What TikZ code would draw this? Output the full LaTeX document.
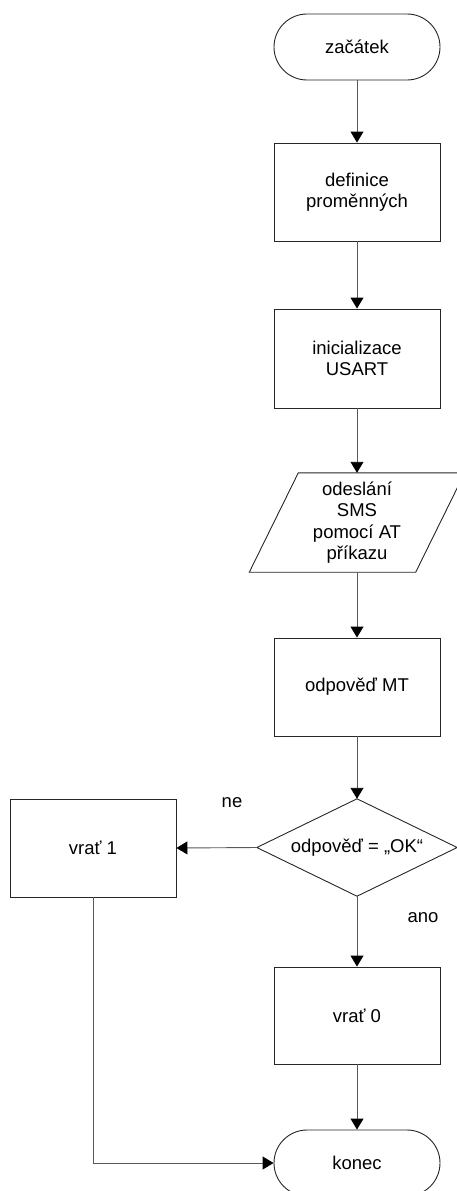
\documentclass[tikz,border=0pt]{standalone}
\usepackage{fontspec}
\setmainfont{Liberation Sans}
\usetikzlibrary{shapes.misc,arrows.meta,calc}
\begin{document}
\begin{tikzpicture}[x=1pt,y=-1pt,
  every node/.style={font=\fontsize{18.5}{21.5}\selectfont, align=center, inner sep=0pt},
  proc/.style={draw=black!85, line width=0.9pt, rectangle, minimum width=166pt, minimum height=98pt},
  term/.style={draw=black!85, line width=0.9pt, rounded rectangle, minimum width=166pt, minimum height=66pt},
  ghost/.style={rectangle, minimum width=#1},
  conn/.style={draw=black!65, line width=0.9pt, -{Triangle[length=11pt,width=13pt,color=black]}},
  shapeline/.style={draw=black!85, line width=0.9pt},
  lbl/.style={}
]
\useasboundingbox (0,0) rectangle (457,1191);
\clip (0,0) rectangle (457,1191);

\node[term] (start) at (357,47) {začátek};
\node[proc] (def) at (357,192) {definice\\proměnných};
\node[proc, minimum height=99pt] (init) at (357,358.5) {inicializace\\USART};
\node[ghost=166pt, minimum height=99pt] (para) at (357,522.5) {odeslání\\SMS\\pomocí AT\\příkazu};
\draw[shapeline] ($(para.north west)+(24.5,0)$) -- ($(para.north east)+(24.5,0)$)
  -- ($(para.south east)+(-24.5,0)$) -- ($(para.south west)+(-24.5,0)$) -- cycle;
\node[proc] (mt) at (357,687) {odpověď MT};
\node[ghost=200pt, minimum height=97pt] (dec) at (357,847.5) {odpověď = „OK“};
\draw[shapeline] (dec.north) -- (dec.east) -- (dec.south) -- (dec.west) -- cycle;
\node[proc] (v1) at (93,848) {vrať 1};
\node[proc, minimum height=97pt] (v0) at (357,1015.5) {vrať 0};
\node[term] (konec) at (357,1163) {konec};

\node[lbl] (ne) at (232,803) {ne};
\node[lbl] (ano) at (423,918) {ano};

\draw[conn] (start.south) -- (def.north);
\draw[conn] (def.south) -- (init.north);
\draw[conn] (init.south) -- (para.north);
\draw[conn] (para.south) -- (mt.north);
\draw[conn] (mt.south) -- (dec.north);
\draw[conn] (dec.west) -- (v1.east);
\draw[conn] (dec.south) -- (v0.north);
\draw[conn] (v0.south) -- (konec.north);
\draw[conn] (v1.south) |- (konec.west);
\end{tikzpicture}
\end{document}
